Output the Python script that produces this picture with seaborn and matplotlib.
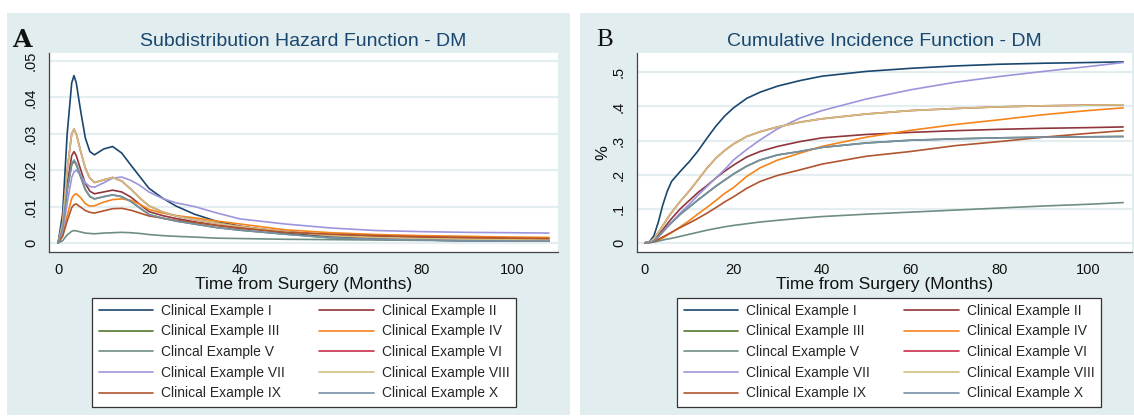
import numpy as np
import pandas as pd
import seaborn as sns
import matplotlib.pyplot as plt
from matplotlib.patches import Rectangle

sns.set_style("white")
plt.rcParams['font.family'] = ['Liberation Sans', 'DejaVu Sans']

# --- data ---
labels = ["Clinical Example I", "Clinical Example II", "Clinical Example III",
          "Clinical Example IV", "Clincal Example V", "Clinical Example VI",
          "Clinical Example VII", "Clinical Example VIII", "Clinical Example IX",
          "Clinical Example X"]
colors = ["#1a476f", "#90353b", "#55752f", "#f5841a", "#6e8e84",
          "#c8304a", "#9d95dc", "#cfc07e", "#b0552f", "#7890a8"]

# panel A: subdistribution hazard
t_haz = [0, 1, 2, 3, 3.5, 4, 5, 6, 7, 8, 10, 12, 14, 16, 18, 20, 23, 26, 30, 35,
         40, 50, 60, 70, 80, 90, 100, 108]
haz_I = [0, .008, .030, .044, .046, .044, .036, .0288, .0251, .0242, .0258, .0265, .0247, .0214,
         .0182, .0150, .0123, .0101, .0079, .0059, .0046, .0027, .0017, .0011, .0008, .0006, .0005, .0005]
haz_II = [0, .0045, .016, .024, .0251, .024, .020, .0163, .0142, .0135, .0140, .0145, .0140, .0126,
          .0106, .0086, .0075, .0067, .0058, .0048, .0040, .0031, .0022, .0018, .0016, .0014, .0013, .0013]
haz_III = [0, .004, .0145, .0215, .0225, .0215, .018, .0146, .0127, .0121, .0127, .0132, .0127, .0114,
           .0096, .0078, .0068, .0060, .0052, .0042, .0035, .0024, .0014, .0010, .0008, .0006, .0005, .0005]
haz_IV = [0, .002, .0075, .0122, .0132, .0135, .0124, .0108, .0101, .0102, .0112, .0119, .0121, .0117,
          .0106, .0092, .0082, .0075, .0069, .0060, .0052, .0036, .0028, .0023, .0020, .0018, .0016, .0015]
haz_V = [0, .0006, .0022, .0032, .0034, .0033, .0030, .0027, .0026, .0025, .0027, .0028, .0029, .0028,
         .0026, .0023, .0020, .0018, .0016, .0013, .0012, .0010, .0009, .0008, .0007, .0006, .0006, .0005]
haz_VI = [0, .0055, .020, .030, .0313, .030, .025, .0205, .0178, .0166, .0173, .0180, .0170, .0148,
          .0123, .0102, .0085, .0074, .0064, .0054, .0045, .0031, .0020, .0015, .0012, .0010, .0009, .0008]
haz_VII = [0, .003, .011, .018, .0195, .0200, .0185, .0165, .0155, .0153, .0165, .0178, .0181, .0172,
           .0158, .0140, .0122, .0110, .0100, .0082, .0066, .0052, .0041, .0034, .0031, .0029, .0028, .0027]
haz_VIII = [0, .0055, .020, .030, .0313, .030, .025, .0205, .0178, .0166, .0173, .0180, .0170, .0148,
            .0123, .0102, .0085, .0074, .0064, .0054, .0045, .0031, .0020, .0015, .0012, .0010, .0009, .0008]
haz_IX = [0, .0018, .006, .0097, .0105, .0107, .0098, .0089, .0084, .0082, .0088, .0094, .0095, .0090,
          .0082, .0074, .0068, .0062, .0056, .0048, .0041, .0029, .0024, .0020, .0017, .0015, .0013, .0012]
haz_X = [0, .004, .0147, .0218, .0228, .0218, .0182, .0147, .0128, .0121, .0127, .0132, .0127, .0114,
         .0096, .0078, .0068, .0060, .0052, .0042, .0035, .0024, .0014, .0010, .0008, .0006, .0005, .0005]

# panel B: cumulative incidence
t_cif = [0, 1, 2, 3, 4, 5, 6, 8, 10, 12, 14, 16, 18, 20, 23, 26, 30, 35, 40, 50, 60, 70, 80, 90, 100, 108]
cif_I = [0, .003, .020, .060, .110, .150, .180, .210, .238, .270, .307, .342, .372, .396, .424, .442,
         .460, .476, .489, .503, .512, .519, .524, .527, .529, .531]
cif_II = [0, .001, .008, .022, .038, .055, .071, .100, .124, .148, .168, .190, .210, .228, .252, .268,
          .283, .297, .308, .318, .324, .329, .333, .336, .338, .340]
cif_III = [0, .001, .006, .018, .032, .046, .059, .084, .105, .126, .146, .166, .184, .202, .225, .243,
           .258, .268, .280, .293, .301, .305, .308, .310, .311, .312]
cif_IV = [0, .0005, .003, .008, .014, .022, .030, .047, .065, .085, .104, .124, .145, .162, .195, .220,
          .243, .263, .283, .310, .330, .347, .361, .376, .388, .396]
cif_V = [0, .0005, .002, .005, .008, .011, .013, .019, .025, .031, .037, .042, .047, .051, .056, .061,
         .066, .072, .077, .084, .090, .096, .102, .108, .113, .118]
cif_VI = [0, .002, .012, .030, .050, .070, .089, .122, .152, .185, .219, .248, .271, .290, .312, .326,
          .340, .354, .364, .378, .388, .394, .399, .402, .404, .405]
cif_VII = [0, .001, .006, .018, .032, .046, .060, .088, .113, .140, .165, .190, .215, .243, .274, .302,
           .335, .366, .388, .422, .449, .471, .488, .503, .517, .529]
cif_VIII = [0, .002, .012, .030, .050, .070, .089, .122, .152, .185, .219, .248, .271, .290, .312, .326,
            .340, .354, .364, .378, .388, .394, .399, .402, .404, .405]
cif_IX = [0, .001, .004, .010, .017, .024, .031, .045, .058, .072, .087, .103, .120, .135, .160, .180,
          .198, .214, .231, .254, .268, .285, .297, .310, .321, .329]
cif_X = [0, .001, .006, .018, .032, .046, .059, .084, .105, .126, .146, .166, .184, .202, .225, .243,
         .258, .268, .280, .293, .301, .305, .308, .310, .311, .312]

haz_series = [haz_I, haz_II, haz_III, haz_IV, haz_V, haz_VI, haz_VII, haz_VIII, haz_IX, haz_X]
cif_series = [cif_I, cif_II, cif_III, cif_IV, cif_V, cif_VI, cif_VII, cif_VIII, cif_IX, cif_X]


def long_df(t, series):
    frames = [pd.DataFrame({"time": t, "value": v, "group": lab}) for lab, v in zip(labels, series)]
    return pd.concat(frames, ignore_index=True)


df_haz = long_df(t_haz, haz_series)
df_cif = long_df(t_cif, cif_series)

W, H = 1134, 417
bg = "#e1edef"
navy = "#1a476f"
fig = plt.figure(figsize=(W / 100, H / 100), dpi=100)
fig.patch.set_facecolor("white")
fig.patches.append(Rectangle((7 / W, 2 / H), 563 / W, 402 / H, transform=fig.transFigure,
                             facecolor=bg, edgecolor="none", zorder=-5))
fig.patches.append(Rectangle((580 / W, 2 / H), 554 / W, 402 / H, transform=fig.transFigure,
                             facecolor=bg, edgecolor="none", zorder=-5))

axA = fig.add_axes([49 / W, 1 - 252 / H, 509 / W, 199 / H])
axB = fig.add_axes([637 / W, 1 - 252 / H, 495 / W, 199 / H])


def style_panel(ax, df, title, yticks, yticklabels, ylim, xlim, legend_x):
    sns.lineplot(data=df, x="time", y="value", hue="group", hue_order=labels,
                 palette=colors, estimator=None, sort=False, lw=1.2, ax=ax)
    ax.set_facecolor("white")
    ax.set_xlim(*xlim)
    ax.set_ylim(*ylim)
    ax.set_xticks([0, 20, 40, 60, 80, 100])
    ax.set_yticks(yticks)
    ax.set_yticklabels(yticklabels, rotation=90, va="center")
    ax.tick_params(axis="both", direction="out", length=5, width=0.9, color="#444",
                   labelsize=10.5, labelcolor="#111", pad=3)
    ax.yaxis.grid(True, color="#e4eef0", lw=1.6)
    ax.xaxis.grid(False)
    for s in ["top", "right"]:
        ax.spines[s].set_visible(False)
    for s in ["left", "bottom"]:
        ax.spines[s].set_color("#444")
        ax.spines[s].set_linewidth(0.9)
    ax.set_title(title, color=navy, fontsize=14, pad=5)
    ax.set_xlabel("Time from Surgery (Months)", fontsize=12.5, color="#111", labelpad=0)
    handles, labs = ax.get_legend_handles_labels()
    order = [0, 2, 4, 6, 8, 1, 3, 5, 7, 9]
    leg = ax.legend([handles[i] for i in order], [labs[i] for i in order], ncol=2,
                    loc="upper center", bbox_to_anchor=(legend_x, -0.229),
                    fontsize=10, frameon=True, fancybox=False, edgecolor="#333",
                    framealpha=1, facecolor="white",
                    handlelength=3.9, handletextpad=0.58, columnspacing=2.5,
                    labelspacing=0.48, borderpad=0.45, borderaxespad=0)
    leg.get_frame().set_linewidth(0.9)
    for line in leg.get_lines():
        line.set_linewidth(1.2)


style_panel(axA, df_haz, "Subdistribution Hazard Function - DM",
            [0, .01, .02, .03, .04, .05], ["0", ".01", ".02", ".03", ".04", ".05"],
            (-0.0025, 0.0522), (-2, 110), 0.501)
axA.set_ylabel("")

style_panel(axB, df_cif, "Cumulative Incidence Function - DM",
            [0, .1, .2, .3, .4, .5], ["0", ".1", ".2", ".3", ".4", ".5"],
            (-0.027, 0.557), (-1.8, 110), 0.509)
axB.set_ylabel("%", fontsize=12, color="#111", labelpad=1)

fig.text(12 / W, 1 - 40 / H, "A", fontsize=18, fontweight="bold", family="DejaVu Serif",
         va="center", ha="left", color="#111")
fig.text(596 / W, 1 - 40 / H, "B", fontsize=18, family="Liberation Serif",
         va="center", ha="left", color="#111")

fig.savefig("out.png", dpi=100)
